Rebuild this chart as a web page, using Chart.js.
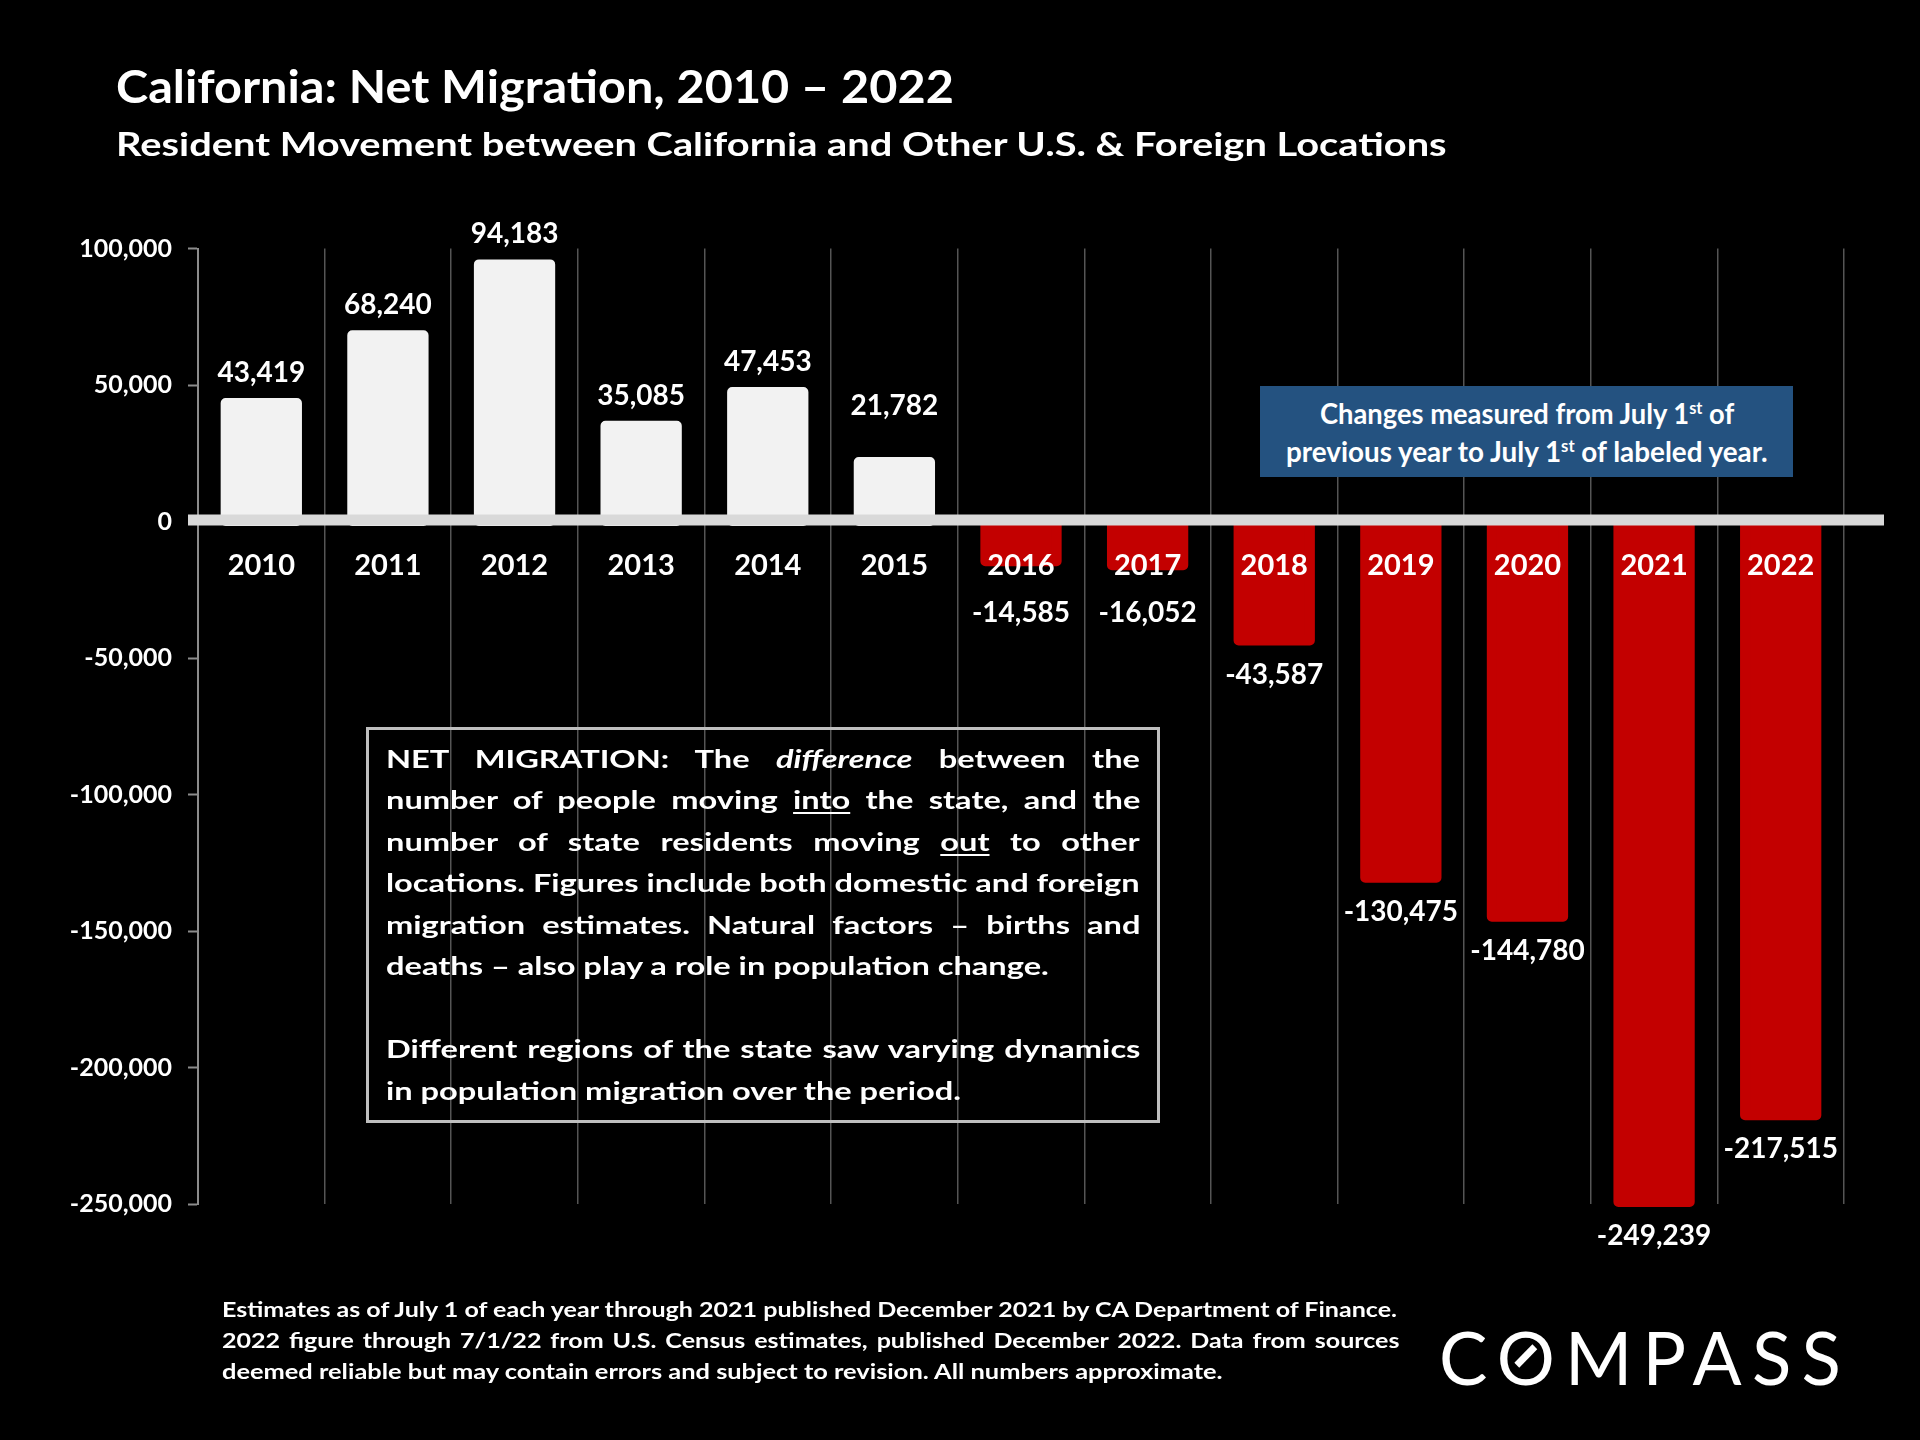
<!DOCTYPE html>
<html>
<head>
<meta charset="utf-8">
<title>California: Net Migration, 2010 – 2022</title>
<script src="https://cdn.jsdelivr.net/npm/chart.js@4.4.1/dist/chart.umd.min.js"></script>
<style>
	body { margin: 0; background: #000; width: 1920px; height: 1440px; overflow: hidden; position: relative;
		font-family: Lato, "Open Sans", sans-serif; font-weight: bold; color: #fff; }
	#chart { position: absolute; left: 0; top: 0; }
	.ln { position: absolute; white-space: nowrap; line-height: 1.2; transform-origin: 0 0; }
	.ln sup { font-size: 0.6em; line-height: 0; vertical-align: 0.6em; }
	.ln u { text-decoration-thickness: 2px; text-underline-offset: 3px; }
	#note { position: absolute; left: 1260px; top: 386px; width: 533px; height: 91px; background: #245280; }
	#frame { position: absolute; left: 366px; top: 727px; width: 794px; height: 396px; box-sizing: border-box; border: 3px solid #bfbfbf; }
	#logo { font-weight: normal; letter-spacing: 0.14em; }
	#logo .o { position: relative; }
	#logo .o::after { content: ''; position: absolute; left: 50%; top: 50%; width: 7px; height: 26px; background: #fff;
		margin-left: -9px; margin-top: -14px; transform: rotate(45deg); }
</style>
</head>
<body>
<canvas id="chart" width="1920" height="1440"></canvas>

<div class="ln" id="title" style="left:116px; top:58.6px; font-size:45px" data-w="838">California: Net Migration, 2010 – 2022</div>
<div class="ln" id="subtitle" style="left:116px; top:125.9px; font-size:31.5px" data-w="1331">Resident Movement between California and Other U.S. &amp; Foreign Locations</div>

<div id="note"></div>
<div class="ln note" style="left:1319.6px; top:397.4px; font-size:28px" data-w="414.6">Changes measured from July 1<sup>st</sup> of</div>
<div class="ln note" style="left:1286px; top:434.5px; font-size:28px" data-w="482">previous year to July 1<sup>st</sup> of labeled year.</div>

<div id="frame"></div>
<div class="ln box j" style="left:385.6px; top:742.8px; font-size:25.5px">NET MIGRATION: The <i>difference</i> between the</div>
<div class="ln box j" style="left:385.6px; top:784.3px; font-size:25.5px">number of people moving <u>into</u> the state, and the</div>
<div class="ln box j" style="left:385.6px; top:825.8px; font-size:25.5px">number of state residents moving <u>out</u> to other</div>
<div class="ln box j" id="boxref" style="left:385.6px; top:867.3px; font-size:25.5px">locations. Figures include both domestic and foreign</div>
<div class="ln box j" style="left:385.6px; top:908.8px; font-size:25.5px">migration estimates. Natural factors – births and</div>
<div class="ln box" style="left:385.6px; top:950.3px; font-size:25.5px">deaths – also play a role in population change.</div>
<div class="ln box j" style="left:385.6px; top:1033.3px; font-size:25.5px">Different regions of the state saw varying dynamics</div>
<div class="ln box" style="left:385.6px; top:1074.8px; font-size:25.5px">in population migration over the period.</div>

<div class="ln" id="foot1" style="left:222px; top:1296.8px; font-size:20.5px">Estimates as of July 1 of each year through 2021 published December 2021 by CA Department of Finance.</div>
<div class="ln" id="foot2" style="left:222px; top:1327.8px; font-size:20.5px">2022 figure through 7/1/22 from U.S. Census estimates, published December 2022. Data from sources</div>
<div class="ln" id="foot3" style="left:222px; top:1358.8px; font-size:20.5px" data-w="1001">deemed reliable but may contain errors and subject to revision. All numbers approximate.</div>

<div class="ln" id="logo" style="left:1439px; top:1313px; font-size:74px" data-w="412">C<span class="o">O</span>MPASS</div>

<script>
// données : migration nette de la Californie (1er juillet -> 1er juillet)
const years = ['2010', '2011', '2012', '2013', '2014', '2015', '2016', '2017', '2018', '2019', '2020', '2021', '2022'];
const netMigration = [43419, 68240, 94183, 35085, 47453, 21782, -14585, -16052, -43587, -130475, -144780, -249239, -217515];
const yTicks = [100000, 50000, 0, -50000, -100000, -150000, -200000, -250000];

const posColor = '#f2f2f2';
const negColor = '#c30000';

function fmt(v)
{
	return v.toLocaleString('en-US');
}

// largeur exacte d'une ligne (police de remplacement plus large que Calibri)
function fitLine(el, w)
{
	el.style.transform = 'scaleX(' + (w / el.offsetWidth) + ')';
}

function justifyLine(el, w, k)
{
	const gaps = (el.textContent.match(/ /g) || []).length;
	const nat = el.offsetWidth;
	el.style.wordSpacing = ((w / k - nat) / gaps) + 'px';
	el.style.transform = 'scaleX(' + k + ')';
}

function layoutTexts()
{
	document.querySelectorAll('[data-w]').forEach(el => fitLine(el, +el.dataset.w));

	const boxK = 754 / document.getElementById('boxref').offsetWidth;
	document.querySelectorAll('.box').forEach(el => {
		if (el.classList.contains('j'))
			justifyLine(el, 754, boxK);
		else
			el.style.transform = 'scaleX(' + boxK + ')';
	});

	const foot1 = document.getElementById('foot1');
	const footK = 1175.5 / foot1.offsetWidth;
	foot1.style.transform = 'scaleX(' + footK + ')';
	justifyLine(document.getElementById('foot2'), 1177, footK);
}

const barExtras = {
	id: 'barExtras',
	afterDatasetsDraw(chart)
	{
		const ctx = chart.ctx;
		const area = chart.chartArea;
		const meta = chart.getDatasetMeta(0);
		ctx.save();
		// contour épais de la même couleur, comme dans Excel (coins arrondis)
		meta.data.forEach(bar => {
			const p = bar.getProps(['x', 'y', 'base', 'width'], true);
			ctx.strokeStyle = bar.options.backgroundColor;
			ctx.lineWidth = 10;
			ctx.lineJoin = 'round';
			ctx.strokeRect(p.x - p.width / 2, Math.min(p.y, p.base), p.width, Math.abs(p.base - p.y));
		});
		// ligne du zéro
		const y0 = chart.scales.y.getPixelForValue(0);
		ctx.fillStyle = '#d9d9d9';
		ctx.fillRect(area.left - 10, y0 - 7, area.right - area.left + 50, 11);
		ctx.restore();
	},
	afterDraw(chart)
	{
		const ctx = chart.ctx;
		const meta = chart.getDatasetMeta(0);
		const y0 = chart.scales.y.getPixelForValue(0);
		ctx.save();
		ctx.font = 'bold 28px Lato';
		ctx.fillStyle = '#fff';
		ctx.textAlign = 'center';
		ctx.textBaseline = 'middle';
		meta.data.forEach((bar, i) => {
			const v = netMigration[i];
			let y;
			if (v >= 0)
				y = Math.min(bar.y - 30, y0 - 116); // petites barres : étiquette remontée
			else
				y = Math.max(bar.y + 34, y0 + 91); // sous les années
			ctx.fillText(fmt(v), bar.x, y);
		});
		ctx.restore();
	}
};

function drawChart()
{
	Chart.defaults.font.family = 'Lato';
	Chart.defaults.color = '#fff';

	const ctx = document.getElementById('chart').getContext('2d');
	new Chart(ctx, {
		type: 'bar',
		data: {
			labels: years,
			datasets: [{
				label: 'Net migration',
				data: netMigration,
				backgroundColor: netMigration.map(v => v >= 0 ? posColor : negColor),
				borderWidth: 0,
				barPercentage: 0.563,
				categoryPercentage: 1
			}]
		},
		options: {
			responsive: false,
			devicePixelRatio: 1,
			animation: false,
			layout: { padding: { top: 248.5, bottom: 236, left: 0, right: 76 } },
			plugins: {
				legend: { display: false },
				tooltip: { enabled: false }
			},
			scales: {
				x: {
					position: { y: 0 },
					afterFit: s => { s.height = 0; },
					grid: { color: '#555', lineWidth: 1.5, drawTicks: false, offset: true },
					border: { display: false },
					// z: 1 -> les années passent par-dessus les barres rouges
					ticks: { z: 1, color: '#fff', font: { size: 29, weight: 'bold' }, padding: 27, maxRotation: 0 }
				},
				y: {
					min: -250000,
					max: 100000,
					afterFit: s => { s.width = 198; },
					afterBuildTicks: s => { s.ticks = yTicks.map(v => ({ value: v })); },
					grid: { drawOnChartArea: false, drawTicks: true, tickLength: 10, tickColor: '#8c8c8c', tickWidth: 2 },
					border: { display: true, color: '#8c8c8c', width: 2 },
					ticks: { color: '#fff', font: { size: 25, weight: 'bold' }, padding: 16, callback: v => fmt(v) }
				}
			}
		},
		plugins: [barExtras]
	});
}

document.addEventListener('DOMContentLoaded', function()
{
	Promise.all([
		document.fonts.load('bold 29px Lato'),
		document.fonts.load('italic bold 25px Lato'),
		document.fonts.load('74px Lato')
	]).catch(() => null).then(() => {
		layoutTexts();
		drawChart();
	});
});
</script>
</body>
</html>
